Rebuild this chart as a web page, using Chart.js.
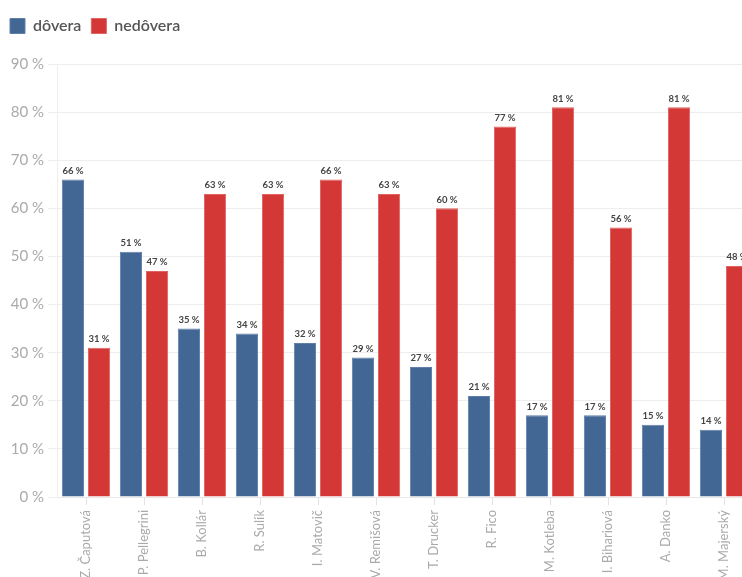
<!DOCTYPE html>
<html>
<head>
<meta charset="utf-8">
<script src="https://cdn.jsdelivr.net/npm/chart.js@4"></script>
<style>
  html, body { margin: 0; padding: 0; background: #fff; overflow: hidden; }
  #wrap { width: 756px; height: 577px; position: relative; }
</style>
</head>
<body>
<div id="wrap"><canvas id="chart"></canvas></div>
<script>
// ===== ADATOK =====
const names = ["Z. Čaputová", "P. Pellegrini", "B. Kollár", "R. Sulík", "I. Matovič", "V. Remišová",
  "T. Drucker", "R. Fico", "M. Kotleba", "I. Bihariová", "A. Danko", "M. Majerský"];
const trust = [66, 51, 35, 34, 32, 29, 27, 21, 17, 17, 15, 14];
const distrust = [31, 47, 63, 63, 66, 63, 60, 77, 81, 56, 81, 48];
const seriesNames = ["dôvera", "nedôvera"];

const FONT = "Lato, 'Open Sans', sans-serif";

// ===== ÉRTÉK CÍMKÉK A BAROK FÖLÖTT =====
const valueLabels = {
  id: "valueLabels",
  afterDatasetsDraw(chart) {
    const ctx = chart.ctx;
    ctx.save();
    ctx.font = "bold 9.5px " + FONT;
    ctx.fillStyle = "#444";
    ctx.textAlign = "center";
    ctx.textBaseline = "bottom";
    chart.data.datasets.forEach((ds, i) => {
      chart.getDatasetMeta(i).data.forEach((bar, j) => {
        ctx.fillText(ds.data[j] + " %", bar.x, bar.y - 4);
      });
    });
    ctx.restore();
  }
};

// ===== LEGENDA ALATTI HELY =====
const legendSpace = {
  id: "legendSpace",
  beforeInit(chart) {
    const fit = chart.legend.fit;
    chart.legend.fit = function () {
      fit.bind(chart.legend)();
      this.height += 20;
    };
  }
};

new Chart(document.getElementById("chart"), {
  type: "bar",
  data: {
    labels: names,
    datasets: [
      {
        label: seriesNames[0],
        data: trust,
        backgroundColor: "#436795",
        borderColor: "#5f7fa8",
        borderWidth: 1,
        barPercentage: 0.85,
        categoryPercentage: 0.9
      },
      {
        label: seriesNames[1],
        data: distrust,
        backgroundColor: "#d33836",
        borderColor: "#e06361",
        borderWidth: 1,
        barPercentage: 0.85,
        categoryPercentage: 0.9
      }
    ]
  },
  options: {
    responsive: true,
    maintainAspectRatio: false,
    animation: false,
    layout: { padding: { top: 8, left: 0, right: 3, bottom: 0 } },
    plugins: {
      legend: {
        align: "start",
        labels: {
          boxWidth: 15,
          boxHeight: 15,
          padding: 10,
          color: "#555",
          font: { family: FONT, size: 16, weight: "600" }
        }
      },
      tooltip: { enabled: false }
    },
    scales: {
      x: {
        grid: {
          display: true,
          drawOnChartArea: false,
          drawTicks: true,
          tickLength: 8,
          offset: false,
          color: "#e2e2e2"
        },
        border: { display: true, color: "#e8e8e8" },
        ticks: {
          color: "#aaa",
          font: { family: FONT, size: 13 },
          autoSkip: false,
          maxRotation: 90,
          minRotation: 90,
          padding: 5
        },
        afterFit(scale) { scale.height = 80; }
      },
      y: {
        min: 0,
        max: 90,
        grid: { color: "#eeeeee", tickLength: 9 },
        border: { display: true, color: "#eeeeee" },
        ticks: {
          stepSize: 10,
          color: "#aaa",
          padding: 4,
          font: { family: FONT, size: 15 },
          callback: v => v + " %"
        },
        afterFit(scale) { scale.width = 57; }
      }
    }
  },
  plugins: [valueLabels, legendSpace]
});
</script>
</body>
</html>
